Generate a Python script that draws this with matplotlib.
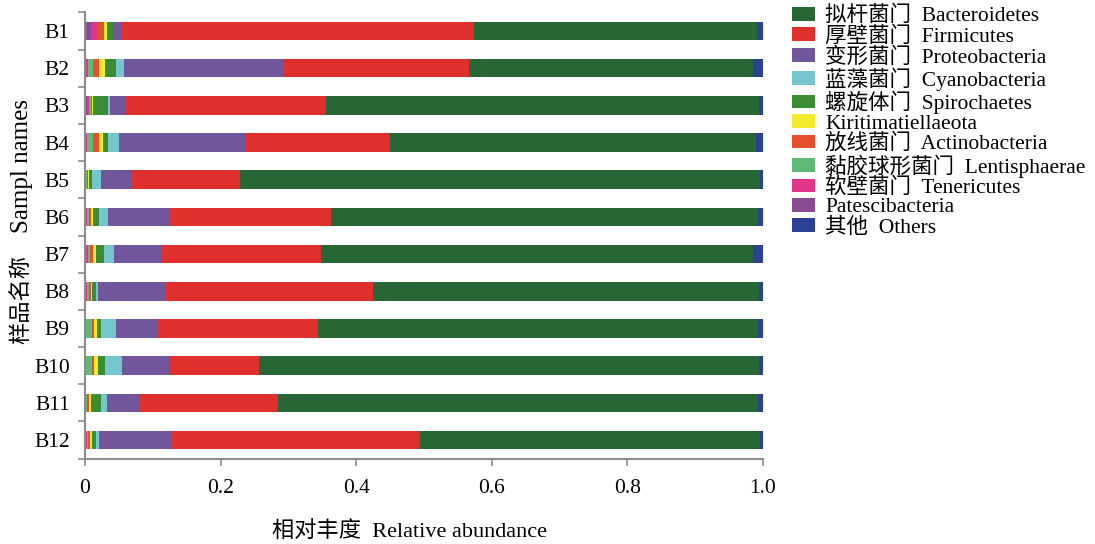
import matplotlib
matplotlib.use("Agg")
import matplotlib.pyplot as plt
from matplotlib.patches import Patch
import numpy as np

plt.rcParams['font.family'] = ['Liberation Serif', 'Noto Sans CJK SC']

samples = ["B1", "B2", "B3", "B4", "B5", "B6", "B7", "B8", "B9", "B10", "B11", "B12"]

# relative abundance of each phylum per sample
patescibacteria = [0.009, 0.002, 0.0025, 0.001, 0.0, 0.0015, 0.0015, 0.001, 0.0, 0.0, 0.0, 0.001]
tenericutes = [0.0103, 0.003, 0.004, 0.0025, 0.0005, 0.002, 0.0025, 0.0025, 0.001, 0.001, 0.0005, 0.0025]
lentisphaerae = [0.0, 0.007, 0.002, 0.008, 0.002, 0.002, 0.004, 0.002, 0.010, 0.009, 0.003, 0.001]
actinobacteria = [0.0088, 0.008, 0.002, 0.0095, 0.002, 0.003, 0.0045, 0.003, 0.003, 0.003, 0.0025, 0.003]
kiritimatiellaeota = [0.0037, 0.010, 0.002, 0.006, 0.0015, 0.003, 0.0032, 0.002, 0.004, 0.006, 0.0035, 0.003]
spirochaetes = [0.0096, 0.015, 0.021, 0.0075, 0.005, 0.0095, 0.0123, 0.005, 0.005, 0.010, 0.0145, 0.005]
cyanobacteria = [0.0, 0.013, 0.003, 0.0155, 0.012, 0.013, 0.0147, 0.004, 0.022, 0.025, 0.009, 0.005]
proteobacteria = [0.013, 0.235, 0.022, 0.1875, 0.0453, 0.0914, 0.0708, 0.100, 0.0622, 0.070, 0.0466, 0.1063]
firmicutes = [0.520, 0.273, 0.2975, 0.2125, 0.1597, 0.2376, 0.234, 0.3055, 0.2368, 0.132, 0.2044, 0.368]
bacteroidetes = [0.4173, 0.419, 0.638, 0.539, 0.768, 0.629, 0.6375, 0.569, 0.648, 0.738, 0.708, 0.501]
others = [0.0083, 0.015, 0.006, 0.011, 0.004, 0.008, 0.015, 0.006, 0.008, 0.006, 0.008, 0.004]

x_ticks = [0, 0.2, 0.4, 0.6, 0.8, 1.0]
x_tick_labels = ["0", "0.2", "0.4", "0.6", "0.8", "1.0"]

# stacking order, left to right
series = [
    ("Patescibacteria", patescibacteria, "#8b4b93"),
    ("软壁菌门  Tenericutes", tenericutes, "#e0368a"),
    ("黏胶球形菌门  Lentisphaerae", lentisphaerae, "#5fba78"),
    ("放线菌门  Actinobacteria", actinobacteria, "#e4502b"),
    ("Kiritimatiellaeota", kiritimatiellaeota, "#f2ec2c"),
    ("螺旋体门  Spirochaetes", spirochaetes, "#3c8c35"),
    ("蓝藻菌门  Cyanobacteria", cyanobacteria, "#76c6d0"),
    ("变形菌门  Proteobacteria", proteobacteria, "#71569c"),
    ("厚壁菌门  Firmicutes", firmicutes, "#df302e"),
    ("拟杆菌门  Bacteroidetes", bacteroidetes, "#276736"),
    ("其他  Others", others, "#2c4095"),
]

W, H = 1095, 544
fig = plt.figure(figsize=(W / 100, H / 100), dpi=100)
ax = fig.add_axes([85 / W, 1 - 458.6 / H, (763 - 85) / W, (458.6 - 12.4) / H])

y = np.arange(len(samples))
left = np.zeros(len(samples))
handles = {}
for name, vals, color in series:
    v = np.array(vals)
    ax.barh(y, v, left=left, height=0.5, color=color, linewidth=0)
    handles[name] = Patch(facecolor=color, edgecolor="none")
    left += v

ax.set_xlim(0, 1.0)
ax.set_ylim(len(samples) - 0.5, -0.5)

ax.set_xticks(x_ticks)
ax.set_xticklabels(x_tick_labels, fontsize=15.5)
ax.set_yticks(y)
ax.set_yticklabels(samples, fontsize=15.5)
ax.set_yticks(np.arange(len(samples) + 1) - 0.5, minor=True)
ax.tick_params(axis="y", which="major", length=0, pad=11)
ax.tick_params(axis="y", which="minor", length=5, width=1.2, color="#8c8c8c", direction="out")
ax.tick_params(axis="x", which="major", length=5, width=1.2, color="#8c8c8c", direction="out", pad=10)

for s in ("top", "right"):
    ax.spines[s].set_visible(False)
for s in ("left", "bottom"):
    ax.spines[s].set_color("#8c8c8c")
    ax.spines[s].set_linewidth(1.5)

# axis titles
fig.text(410 / W, 1 - 532 / H, "相对丰度  Relative abundance", fontsize=16,
         ha="center", va="center")
fig.text(22 / W, 1 - 300 / H, "样品名称", fontsize=16, rotation=90,
         ha="center", va="center")
fig.text(22 / W, 1 - 166 / H, "Sampl names", fontsize=18, rotation=90,
         ha="center", va="center")

legend_order = [
    "拟杆菌门  Bacteroidetes", "厚壁菌门  Firmicutes", "变形菌门  Proteobacteria",
    "蓝藻菌门  Cyanobacteria", "螺旋体门  Spirochaetes", "Kiritimatiellaeota",
    "放线菌门  Actinobacteria", "黏胶球形菌门  Lentisphaerae", "软壁菌门  Tenericutes",
    "Patescibacteria", "其他  Others",
]
fig.legend([handles[n] for n in legend_order], legend_order,
           loc="upper left", bbox_to_anchor=(792 / W, 1 - 6 / H),
           frameon=False, fontsize=15.5, handlelength=1.05, handleheight=0.6,
           handletextpad=0.5, labelspacing=0.0, borderpad=0, borderaxespad=0)

fig.savefig("out.png", dpi=100)
